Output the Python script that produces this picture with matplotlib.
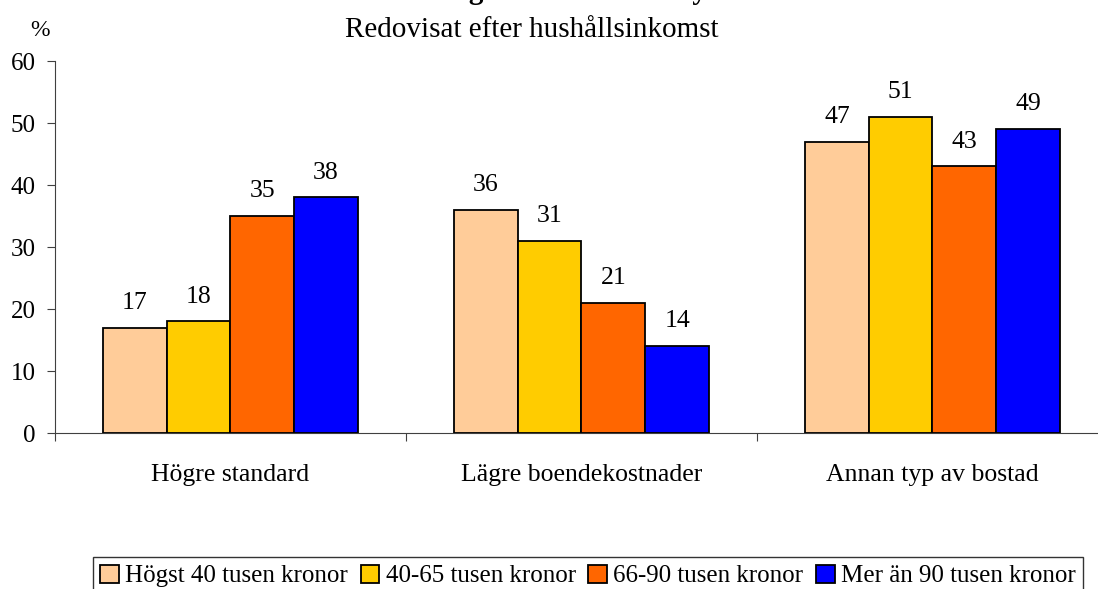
import numpy as np
import matplotlib
matplotlib.use('Agg')
import matplotlib.pyplot as plt

# data
categories = ['Högre standard', 'Lägre boendekostnader', 'Annan typ av bostad']
series = ['Högst 40 tusen kronor', '40-65 tusen kronor', '66-90 tusen kronor', 'Mer än 90 tusen kronor']
values = [
    [17, 36, 47],
    [18, 31, 51],
    [35, 21, 43],
    [38, 14, 49],
]
colors = ['#FFCC99', '#FFCC00', '#FF6600', '#0000FF']

plt.rcParams['font.family'] = ['Liberation Serif', 'DejaVu Serif']

fig = plt.figure(figsize=(10.98, 5.89), dpi=100)
ax = fig.add_axes([55 / 1098, 156 / 589, 1053 / 1098, 372 / 589])

w = 0.1816
x = np.arange(len(categories))
for j, (name, vals, c) in enumerate(zip(series, values, colors)):
    pos = x + (j - 1.5) * w
    ax.bar(pos, vals, width=w, color=c, edgecolor='black', linewidth=1.3, label=name, zorder=3)
    for px, v in zip(pos, vals):
        ax.annotate(str(v), (px, v), xytext=(0, 13.5), textcoords='offset points',
                    ha='center', va='baseline', fontsize=18.5)

ax.set_xlim(-0.5, 2.5)
ax.set_ylim(0, 60)
ax.set_yticks(range(0, 61, 10))
ax.tick_params(axis='y', length=6, width=0.8, pad=8, labelsize=18, color='#404040')

# category boundaries as major ticks, names as minor ticks
ax.set_xticks([-0.5, 0.5, 1.5, 2.5])
ax.set_xticklabels([])
ax.set_xticks(x, minor=True)
ax.set_xticklabels(categories, minor=True)
ax.tick_params(axis='x', which='major', length=6, width=0.8, color='#404040')
ax.tick_params(axis='x', which='minor', length=0, pad=22, labelsize=18.5)

for s in ['top', 'right']:
    ax.spines[s].set_visible(False)
for s in ['left', 'bottom']:
    ax.spines[s].set_color('#404040')
    ax.spines[s].set_linewidth(0.8)

fig.text(40 / 1098, 1 - 30 / 589, '%', ha='center', va='center', fontsize=17)
fig.text(532 / 1098, 1 - 30 / 589, 'Redovisat efter hushållsinkomst', ha='center', va='center', fontsize=21)
# the bold main title is cropped at the top edge in the reference
fig.text(540 / 1098, 1 + 1 / 589, 'Anledning till önskan om flytt', ha='center', va='baseline',
         fontsize=21, fontweight='bold')

leg = fig.legend(loc='upper center', bbox_to_anchor=(588 / 1098, 1 - 557 / 589), ncol=4,
                 fontsize=18, frameon=True, fancybox=False, edgecolor='black',
                 handlelength=0.75, handleheight=0.75, handletextpad=0.25, columnspacing=0.5,
                 borderpad=0.3, borderaxespad=0)
leg.get_frame().set_linewidth(1.0)

fig.savefig('out.png', dpi=100)
